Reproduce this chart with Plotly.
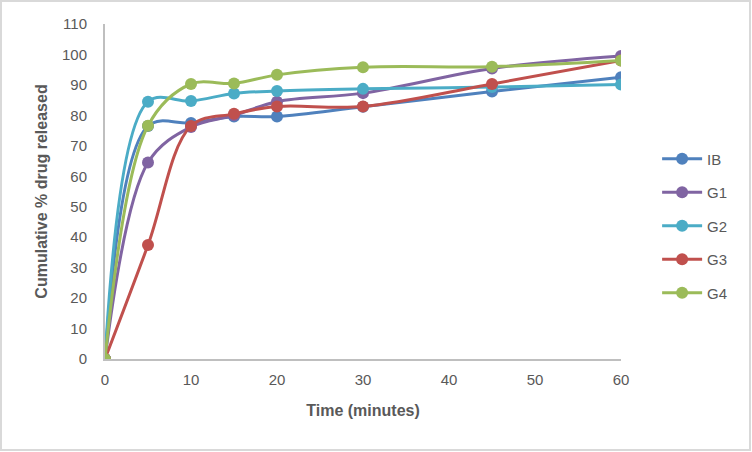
import plotly.graph_objects as go

time_min = [0, 5, 10, 15, 20, 30, 45, 60]
ib = [0, 76.5, 77.5, 79.6, 79.6, 82.8, 87.8, 92.5]
g1 = [0, 64.5, 76.2, 80.0, 84.5, 87.3, 95.4, 99.5]
g2 = [0, 84.5, 84.7, 87.2, 88.0, 88.7, 89.3, 90.1]
g3 = [0, 37.4, 76.5, 80.5, 82.9, 82.9, 90.3, 98.0]
g4 = [0, 76.6, 90.3, 90.5, 93.3, 95.8, 96.0, 98.0]

series = [("IB", ib, "#4F81BD"), ("G1", g1, "#8064A2"), ("G2", g2, "#4BACC6"),
          ("G3", g3, "#C0504D"), ("G4", g4, "#9BBB59")]

W, H = 752, 452
L, R, T, B = 105, 131, 24, 93
pw, ph = W - L - R, H - T - B
FAM = "Liberation Sans, Arial, sans-serif"

fig = go.Figure()
for name, vals, col in series:
    fig.add_trace(go.Scatter(
        x=time_min, y=vals, name=name, mode="lines+markers",
        line=dict(color=col, width=3, shape="spline", smoothing=1.0),
        marker=dict(color=col, size=12),
        legendgroup=name,
    ))

axis_font = dict(family=FAM, size=15, color="#595959")
fig.update_layout(
    width=W, height=H,
    margin=dict(l=L, r=R, t=T, b=B),
    paper_bgcolor="white", plot_bgcolor="white",
    font=axis_font,
    showlegend=True,
    legend=dict(x=1.07, y=(H - B - 226) / ph, xanchor="left", yanchor="middle",
                font=dict(family=FAM, size=15, color="#595959"),
                tracegroupgap=11, itemwidth=40, bgcolor="rgba(0,0,0,0)"),
    xaxis=dict(range=[0, 60], tickmode="array", tickvals=[0, 10, 20, 30, 40, 50, 60],
               showgrid=False, zeroline=False, showline=True, linecolor="#BFBFBF", linewidth=2,
               ticks="", tickfont=axis_font, ticklabelstandoff=6,
               title=dict(text="<b>Time (minutes)</b>", font=dict(family=FAM, size=16, color="#595959"), standoff=18),
               fixedrange=True),
    yaxis=dict(range=[0, 110], tickmode="array", tickvals=list(range(0, 111, 10)),
               showgrid=False, zeroline=False, showline=True, linecolor="#BFBFBF", linewidth=2,
               ticks="", tickfont=axis_font, ticklabelstandoff=13,
               title=dict(text="<b>Cumulative % drug released</b>", font=dict(family=FAM, size=16, color="#595959"), standoff=10),
               fixedrange=True),
)

fig.add_shape(type="rect", xref="paper", yref="paper",
              x0=(1 - L) / pw, x1=(W - 2 - L) / pw,
              y0=(H - B - (H - 2)) / ph, y1=(H - B - 1) / ph,
              line=dict(color="#D9D9D9", width=2), fillcolor="rgba(0,0,0,0)", layer="below")

fig.write_html("out.html", config={"displayModeBar": False},
               post_script="document.body.style.margin='0';document.body.style.overflow='hidden';")
